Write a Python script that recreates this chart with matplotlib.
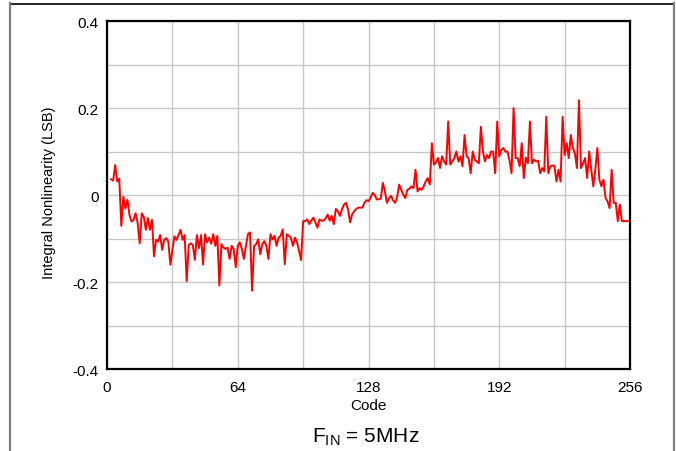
import numpy as np
import matplotlib
matplotlib.use("Agg")
from matplotlib import pyplot as plt
from matplotlib.lines import Line2D
from matplotlib.ticker import MultipleLocator

plt.rcParams['font.family'] = ['Liberation Sans', 'DejaVu Sans']

# INL, one value per code (codes 2 .. 255)
first_code = 2
inl_lsb = [
    0.036, 0.033, 0.069, 0.031, 0.038, -0.071, -0.004, -0.031, -0.011, -0.046,
    -0.061, -0.057, -0.042, -0.065, -0.111, -0.042, -0.050, -0.080, -0.053, -0.080,
    -0.057, -0.141, -0.103, -0.107, -0.092, -0.126, -0.103, -0.099, -0.107, -0.160,
    -0.126, -0.095, -0.103, -0.092, -0.080, -0.103, -0.092, -0.198, -0.115, -0.111,
    -0.115, -0.149, -0.092, -0.122, -0.092, -0.160, -0.090, -0.109, -0.098, -0.112,
    -0.090, -0.117, -0.094, -0.208, -0.113, -0.121, -0.124, -0.121, -0.147, -0.117,
    -0.124, -0.166, -0.117, -0.109, -0.124, -0.147, -0.117, -0.090, -0.086, -0.220,
    -0.117, -0.113, -0.102, -0.136, -0.113, -0.106, -0.117, -0.147, -0.090, -0.102,
    -0.094, -0.117, -0.098, -0.094, -0.079, -0.159, -0.090, -0.094, -0.098, -0.117,
    -0.098, -0.109, -0.128, -0.150, -0.060, -0.060, -0.056, -0.067, -0.059, -0.052,
    -0.063, -0.075, -0.056, -0.059, -0.059, -0.054, -0.045, -0.059, -0.048, -0.067,
    -0.032, -0.037, -0.048, -0.033, -0.022, -0.018, -0.034, -0.063, -0.044, -0.037,
    -0.032, -0.029, -0.029, -0.029, -0.018, -0.012, -0.014, -0.006, 0.005, 0.000,
    -0.010, -0.010, -0.008, 0.028, 0.009, -0.018, -0.008, -0.002, -0.012, -0.018,
    -0.005, 0.024, 0.012, 0.001, -0.007, 0.012, 0.014, 0.020, 0.016, 0.058,
    0.008, 0.016, 0.012, 0.020, 0.031, 0.039, 0.024, 0.119, 0.070, 0.075,
    0.085, 0.062, 0.089, 0.077, 0.070, 0.169, 0.070, 0.077, 0.085, 0.100,
    0.077, 0.089, 0.066, 0.138, 0.089, 0.085, 0.050, 0.100, 0.081, 0.077,
    0.073, 0.157, 0.100, 0.077, 0.092, 0.085, 0.100, 0.100, 0.050, 0.169,
    0.089, 0.104, 0.108, 0.100, 0.100, 0.080, 0.050, 0.200, 0.085, 0.085,
    0.066, 0.119, 0.039, 0.086, 0.073, 0.169, 0.073, 0.081, 0.077, 0.079,
    0.050, 0.062, 0.054, 0.180, 0.050, 0.066, 0.068, 0.067, 0.031, 0.058,
    0.031, 0.180, 0.092, 0.119, 0.085, 0.138, 0.108, 0.096, 0.062, 0.218,
    0.062, 0.073, 0.085, 0.039, 0.100, 0.060, 0.020, 0.058, 0.108, 0.035,
    0.020, 0.035, -0.007, -0.015, -0.030, 0.058, -0.018, -0.018, -0.060, -0.022,
    -0.060, -0.060, -0.060, -0.060,
]
codes = np.arange(first_code, first_code + len(inl_lsb))

x_ticks = [0, 64, 128, 192, 256]
y_ticks = [-0.4, -0.2, 0.0, 0.2, 0.4]
y_tick_labels = ["-0.4", "-0.2", "0", "0.2", "0.4"]

fig = plt.figure(figsize=(6.76, 4.52), dpi=100)
ax = fig.add_axes([0.1583, 0.1814, 0.7737, 0.7699])

ax.plot(codes, inl_lsb, color="#ff0000", linewidth=1.4, zorder=3)

ax.set_xlim(0, 256)
ax.set_ylim(-0.4, 0.4)
ax.set_xticks(x_ticks)
ax.set_yticks(y_ticks)
ax.set_yticklabels(y_tick_labels)
ax.xaxis.set_minor_locator(MultipleLocator(32))
ax.yaxis.set_minor_locator(MultipleLocator(0.1))
ax.grid(which="both", color="#c8c8c8", linewidth=1.0)
ax.set_axisbelow(True)
ax.tick_params(which="both", length=0, labelsize=11)
ax.tick_params(axis="x", pad=8)
ax.tick_params(axis="y", pad=6)

for spine in ax.spines.values():
    spine.set_linewidth(1.6)
    spine.set_color("black")

ax.set_xlabel("Code", fontsize=11, labelpad=3)
ax.set_ylabel("Integral Nonlinearity (LSB)", fontsize=10.5)
ax.yaxis.set_label_coords(-0.098, 0.51)

fig.text(0.541, 0.021, r"F$_{\mathregular{IN}}$ = 5MHz", fontsize=15,
         ha="center", va="baseline")

# outer frame pieces of the page
fig.add_artist(Line2D([9.5 / 676, 673 / 676], [1 - 4.5 / 452, 1 - 4.5 / 452],
                      color="black", linewidth=1.2))
fig.add_artist(Line2D([10 / 676, 10 / 676], [0, 1 - 4 / 452],
                      color="#808080", linewidth=1.6))
fig.add_artist(Line2D([674 / 676, 674 / 676], [0, 1 - 4 / 452],
                      color="#808080", linewidth=1.6))

fig.savefig("out.png", dpi=100)
